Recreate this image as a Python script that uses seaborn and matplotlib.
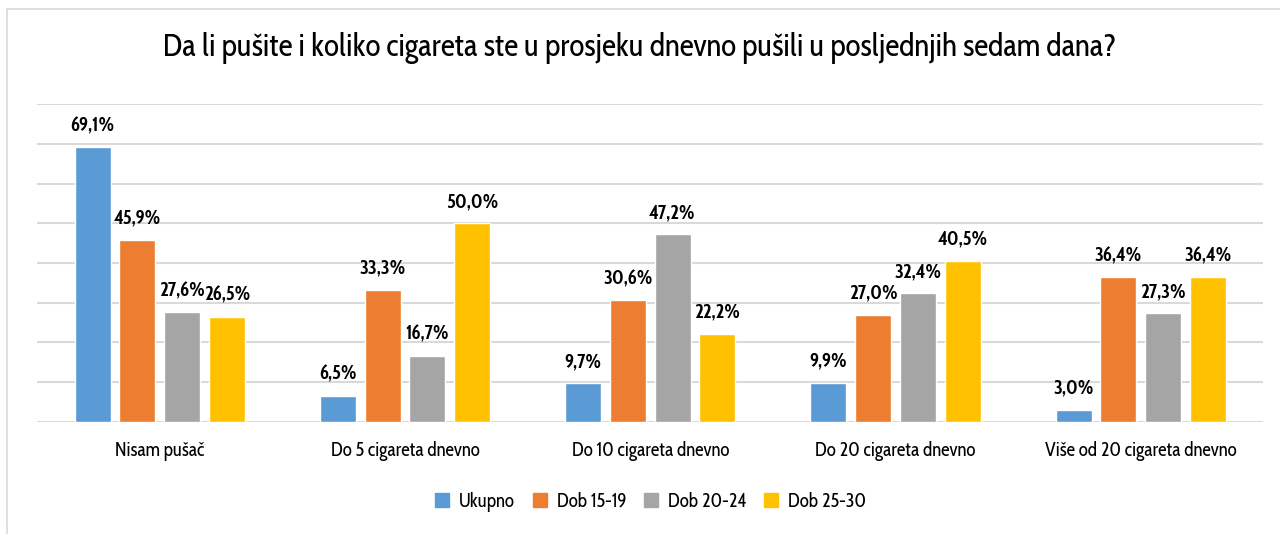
import pandas as pd
import numpy as np
import matplotlib.pyplot as plt
import seaborn as sns
from matplotlib.lines import Line2D

categories = ['Nisam pušač', 'Do 5 cigareta dnevno', 'Do 10 cigareta dnevno',
              'Do 20 cigareta dnevno', 'Više od 20 cigareta dnevno']
series = ['Ukupno', 'Dob 15-19', 'Dob 20-24', 'Dob 25-30']
ukupno = [69.1, 6.5, 9.7, 9.9, 3.0]
dob_15_19 = [45.9, 33.3, 30.6, 27.0, 36.4]
dob_20_24 = [27.6, 16.7, 47.2, 32.4, 27.3]
dob_25_30 = [26.5, 50.0, 22.2, 40.5, 36.4]
colors = ['#5B9BD5', '#ED7D31', '#A5A5A5', '#FFC000']
title = 'Da li pušite i koliko cigareta ste u prosjeku dnevno pušili u posljednjih sedam dana?'

df = pd.DataFrame({'kategorija': categories, 'Ukupno': ukupno, 'Dob 15-19': dob_15_19,
                   'Dob 20-24': dob_20_24, 'Dob 25-30': dob_25_30})
long = df.melt(id_vars='kategorija', var_name='grupa', value_name='postotak')

sns.set_theme(style='white')
plt.rcParams['font.family'] = ['Cabin Condensed', 'DejaVu Sans']
plt.rcParams['text.color'] = '#000000'

fig = plt.figure(figsize=(12.8, 5.34), dpi=100)
ax = fig.add_axes([0.029, 0.210, 0.958, 0.595])

sns.barplot(data=long, x='kategorija', y='postotak', hue='grupa', hue_order=series,
            palette=colors, width=0.73, gap=0.2, saturation=1, ax=ax, legend=False, zorder=3)

ax.set_ylim(0, 80)
ax.set_xlim(-0.5, len(categories) - 0.5)
ax.set_yticks(np.arange(0, 81, 10))
ax.yaxis.grid(True, color='#D9D9D9', linewidth=1.5, zorder=0)
ax.set_axisbelow(True)
ax.tick_params(axis='y', left=False, labelleft=False)
ax.tick_params(axis='x', bottom=False, labelsize=13.7, pad=8, labelcolor='#000000')
for s in ax.spines.values():
    s.set_visible(False)
ax.set_xlabel('')
ax.set_ylabel('')

for cont in ax.containers:
    ax.bar_label(cont, labels=[f'{v:.1f}%'.replace('.', ',') for v in cont.datavalues],
                 padding=8, fontsize=14, fontweight='bold', color='#000000')

fig.text(0.5, 0.91, title, ha='center', va='center', fontsize=22.5, color='#000000')

handles = [Line2D([], [], marker='s', linestyle='', markersize=10, color=c) for c in colors]
fig.legend(handles, series, loc='center', bbox_to_anchor=(0.508, 0.06), ncol=4,
           frameon=False, fontsize=13.7, handlelength=0.8, handletextpad=0.5,
           columnspacing=0.9)

# outer chart frame (top and left edges visible)
fig.add_artist(Line2D([7 / 1280, 1], [1 - 9 / 534, 1 - 9 / 534], color='#D9D9D9', lw=1.2))
fig.add_artist(Line2D([7 / 1280, 7 / 1280], [0, 1 - 9 / 534], color='#D9D9D9', lw=1.2))

fig.savefig('out.png', dpi=100)
